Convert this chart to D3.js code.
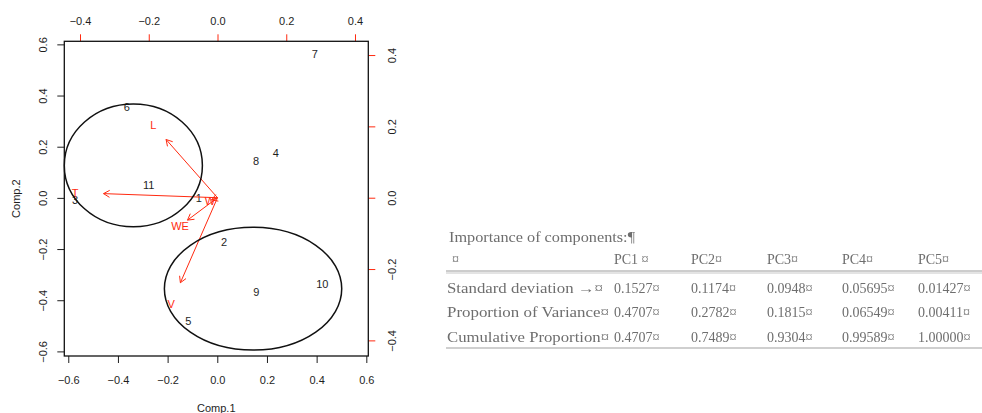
<!DOCTYPE html>
<html>
<head>
<meta charset="utf-8">
<script src="https://cdn.jsdelivr.net/npm/d3@7"></script>
<style>
  html, body { margin: 0; padding: 0; background: #fff; }
  svg { display: block; }
</style>
</head>
<body>
<div id="chart"></div>
<script>
// biplot scores (Comp.1 / Comp.2)
const obsLabels = ['1', '2', '3', '4', '5', '6', '7', '8', '9', '10', '11']
const comp1 = [-0.074, 0.027, -0.573, 0.236, -0.117, -0.364, 0.393, 0.156, 0.157, 0.423, -0.276]
const comp2 = [-0.001, -0.172, -0.009, 0.176, -0.480, 0.354, 0.561, 0.145, -0.367, -0.337, 0.051]

// variable loadings (secondary axes)
const varLabels = ['W', 'L', 'T', 'WE', 'V']
const load1 = [-0.022, -0.187, -0.4145, -0.109, -0.135]
const load2 = [-0.008, 0.204, 0.0143, -0.0785, -0.298]

// group ellipses: centre and radii in Comp units
const ellCx = [-0.338, 0.144]
const ellCy = [0.127, -0.355]
const ellRx = [0.278, 0.357]
const ellRy = [0.240, 0.240]

const xTicks = [-0.6, -0.4, -0.2, 0.0, 0.2, 0.4, 0.6]
const yTicks = [-0.6, -0.4, -0.2, 0.0, 0.2, 0.4, 0.6]
const x2Ticks = [-0.4, -0.2, 0.0, 0.2, 0.4]
const y2Ticks = [-0.4, -0.2, 0.0, 0.2, 0.4]

// summary table shown next to the plot
const tableTitle = 'Importance of components:¶'
const tableHeaders = ['PC1 ¤', 'PC2¤', 'PC3¤', 'PC4¤', 'PC5¤']
const rowNames = ['Standard deviation →¤', 'Proportion of Variance¤', 'Cumulative Proportion¤']
const stdDev = ['0.1527¤', '0.1174¤', '0.0948¤', '0.05695¤', '0.01427¤']
const propVar = ['0.4707¤', '0.2782¤', '0.1815¤', '0.06549¤', '0.00411¤']
const cumProp = ['0.4707¤', '0.7489¤', '0.9304¤', '0.99589¤', '1.00000¤']

const W = 982, H = 413
const RED = '#ff2a10'
const INK = '#1e1e1e'
const FONT = "'Liberation Sans', Arial, sans-serif"

const L = 64.3, R = 368.3, T = 41.3, B = 356

const x = d3.scaleLinear().domain([-0.616, 0.608]).range([L, R])
const y = d3.scaleLinear().domain([-0.618, 0.612]).range([B, T])
const x2 = d3.scaleLinear().domain([-0.4457, 0.4387]).range([L, R])
const y2 = d3.scaleLinear().domain([-0.4438, 0.4385]).range([B, T])

const svg = d3.select('#chart').append('svg')
  .attr('width', W).attr('height', H)
  .attr('font-family', FONT)

svg.append('rect').attr('width', W).attr('height', H).attr('fill', '#fff')

function styleAxis(g, color, rotate, offset) {
  g.select('.domain').remove()
  g.selectAll('line').attr('stroke', color).attr('stroke-width', 1)
  g.selectAll('text')
    .attr('fill', INK)
    .attr('font-size', '11px')
    .attr('font-family', FONT)
  if (rotate) {
    g.selectAll('text')
      .attr('transform', 'rotate(-90)')
      .attr('x', 0).attr('y', offset).attr('dy', null)
      .attr('text-anchor', 'middle')
      .attr('dominant-baseline', 'central')
  } else {
    g.selectAll('text')
      .attr('y', offset).attr('dy', null)
      .attr('dominant-baseline', 'central')
  }
}

const fmt = d3.format('.1f')

svg.append('g').attr('transform', `translate(0,${B})`)
  .call(d3.axisBottom(x).tickValues(xTicks).tickFormat(fmt).tickSize(7))
  .call(g => styleAxis(g, INK, false, 24))

svg.append('g').attr('transform', `translate(${L},0)`)
  .call(d3.axisLeft(y).tickValues(yTicks).tickFormat(fmt).tickSize(7))
  .call(g => styleAxis(g, INK, true, -21.5))

svg.append('g').attr('transform', `translate(0,${T})`)
  .call(d3.axisTop(x2).tickValues(x2Ticks).tickFormat(fmt).tickSize(7))
  .call(g => styleAxis(g, RED, false, -20.5))

svg.append('g').attr('transform', `translate(${R},0)`)
  .call(d3.axisRight(y2).tickValues(y2Ticks).tickFormat(fmt).tickSize(7))
  .call(g => styleAxis(g, RED, true, 24))

// axis titles
svg.append('text')
  .attr('x', (L + R) / 2).attr('y', 408)
  .attr('text-anchor', 'middle').attr('dominant-baseline', 'central')
  .attr('font-size', '11px').attr('fill', INK)
  .text('Comp.1')

svg.append('text')
  .attr('transform', `translate(16,${(T + B) / 2}) rotate(-90)`)
  .attr('text-anchor', 'middle').attr('dominant-baseline', 'central')
  .attr('font-size', '11px').attr('fill', INK)
  .text('Comp.2')

// observation labels
svg.append('g').selectAll('text')
  .data(obsLabels)
  .join('text')
  .attr('x', (d, i) => x(comp1[i]))
  .attr('y', (d, i) => y(comp2[i]))
  .attr('text-anchor', 'middle').attr('dominant-baseline', 'central')
  .attr('font-size', '11px').attr('fill', INK)
  .text(d => d)

// loading arrows (drawn to 0.8 of the loading, as biplot() does)
const arrows = svg.append('g').attr('stroke', RED).attr('stroke-width', 1).attr('fill', 'none')
varLabels.forEach((v, i) => {
  const x0 = x2(0), y0 = y2(0)
  const x1 = x2(load1[i] * 0.8), y1 = y2(load2[i] * 0.8)
  arrows.append('line').attr('x1', x0).attr('y1', y0).attr('x2', x1).attr('y2', y1)
  const ang = Math.atan2(y1 - y0, x1 - x0)
  const len = 7
  for (const s of [-1, 1]) {
    const a = ang + Math.PI - s * Math.PI / 6
    arrows.append('line')
      .attr('x1', x1).attr('y1', y1)
      .attr('x2', x1 + len * Math.cos(a)).attr('y2', y1 + len * Math.sin(a))
  }
})

svg.append('g').selectAll('text')
  .data(varLabels)
  .join('text')
  .attr('x', (d, i) => x2(load1[i]))
  .attr('y', (d, i) => y2(load2[i]))
  .attr('text-anchor', 'middle').attr('dominant-baseline', 'central')
  .attr('font-size', '11px').attr('fill', RED)
  .text(d => d)

// group ellipses
svg.append('g').selectAll('ellipse')
  .data(ellCx)
  .join('ellipse')
  .attr('cx', d => x(d))
  .attr('cy', (d, i) => y(ellCy[i]))
  .attr('rx', (d, i) => x(d + ellRx[i]) - x(d))
  .attr('ry', (d, i) => y(ellCy[i]) - y(ellCy[i] + ellRy[i]))
  .attr('fill', 'none').attr('stroke', '#111').attr('stroke-width', 1.5)

// plot box
svg.append('rect')
  .attr('x', L).attr('y', T).attr('width', R - L).attr('height', B - T)
  .attr('fill', 'none').attr('stroke', '#111').attr('stroke-width', 1.3)

// ---- table (pasted screenshot look) ----
svg.append('defs').append('filter').attr('id', 'soft')
  .append('feGaussianBlur').attr('stdDeviation', 0.6)

const colX = [614, 691, 767, 842, 918]
const rowY = [288, 312, 337]
const tbl = svg.append('g')
  .attr('font-family', "'Liberation Serif', 'Times New Roman', serif")
  .attr('font-size', '14px')
  .attr('fill', '#6e6e6e')
  .attr('filter', 'url(#soft)')

tbl.append('text').attr('x', 449).attr('y', 237).attr('dominant-baseline', 'central')
  .attr('font-size', '15px')
  .attr('textLength', 186).attr('lengthAdjust', 'spacingAndGlyphs')
  .text(tableTitle)

tbl.append('text').attr('x', 452).attr('y', 259).attr('dominant-baseline', 'central').text('¤')

tbl.selectAll('.hdr').data(tableHeaders).join('text')
  .attr('class', 'hdr')
  .attr('x', (d, i) => colX[i]).attr('y', 259).attr('dominant-baseline', 'central')
  .text(d => d)

tbl.selectAll('.rn').data(rowNames).join('text')
  .attr('class', 'rn')
  .attr('x', 447).attr('y', (d, i) => rowY[i]).attr('dominant-baseline', 'central')
  .attr('textLength', (d, i) => [156, 162, 162][i]).attr('lengthAdjust', 'spacingAndGlyphs')
  .text(d => d)

const rows = [stdDev, propVar, cumProp]
rows.forEach((vals, r) => {
  tbl.append('g').selectAll('text').data(vals).join('text')
    .attr('x', (d, i) => colX[i]).attr('y', rowY[r]).attr('dominant-baseline', 'central')
    .text(d => d)
})

tbl.append('line').attr('x1', 446).attr('x2', 982).attr('y1', 271).attr('y2', 271)
  .attr('stroke', '#9a9a9a').attr('stroke-width', 1)
tbl.append('line').attr('x1', 446).attr('x2', 982).attr('y1', 273).attr('y2', 273)
  .attr('stroke', '#c8c8c8').attr('stroke-width', 1)
tbl.append('line').attr('x1', 446).attr('x2', 982).attr('y1', 348).attr('y2', 348)
  .attr('stroke', '#a0a0a0').attr('stroke-width', 1.2)
</script>
</body>
</html>
